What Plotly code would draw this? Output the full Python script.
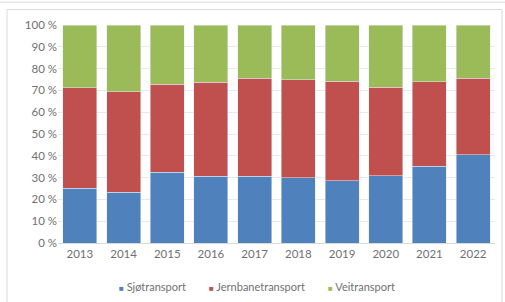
import plotly.graph_objects as go

years = ["2013", "2014", "2015", "2016", "2017", "2018", "2019", "2020", "2021", "2022"]
sjo = [25.2, 23.2, 32.4, 30.7, 30.7, 30.0, 28.6, 30.9, 35.3, 40.4]
jern = [46.0, 46.2, 40.4, 43.0, 44.8, 44.8, 45.7, 40.5, 38.7, 35.1]
vei = [28.8, 30.6, 27.2, 26.3, 24.5, 25.2, 25.7, 28.6, 26.0, 24.5]

series_names = ["Sjøtransport", "Jernbanetransport", "Veitransport"]
series_colors = ["#4F81BD", "#C0504D", "#9BBB59"]

tick_vals = [0, 10, 20, 30, 40, 50, 60, 70, 80, 90, 100]
tick_text = [f"{v} %" for v in tick_vals]

fig = go.Figure()
for name, vals, col in zip(series_names, [sjo, jern, vei], series_colors):
    fig.add_trace(go.Bar(x=years, y=vals, name=name, marker_color=col, showlegend=False))

font = dict(family="Lato, Liberation Sans, sans-serif", size=11.5, color="#707070")

# custom compact legend (like the original Excel chart)
legend_x = [0.136, 0.342, 0.614]
annotations = []
for name, col, lx in zip(series_names, series_colors, legend_x):
    annotations.append(dict(
        xref="paper", yref="paper", x=lx, y=-0.2, xanchor="left", yanchor="middle",
        showarrow=False,
        text=f"<span style='color:{col};font-size:8px'>■</span> {name}",
        font=dict(family="Lato, Liberation Sans, sans-serif", size=11, color="#707070"),
    ))

fig.update_layout(
    barmode="stack",
    bargap=0.22,
    width=505, height=302,
    margin=dict(l=58, r=10, t=25, b=59, autoexpand=False),
    paper_bgcolor="white",
    plot_bgcolor="white",
    font=font,
    showlegend=False,
    annotations=annotations,
    xaxis=dict(showline=True, linecolor="#d9d9d9", ticks="", tickfont=dict(size=11.5),
               automargin=False),
    yaxis=dict(range=[0, 100], tickvals=tick_vals, ticktext=tick_text,
               showgrid=True, gridcolor="#e8e8e8", zeroline=False, ticks="",
               tickfont=dict(size=11.5), automargin=False),
    shapes=[
        dict(type="rect", xref="paper", yref="paper", x0=-0.1167, x1=1.016, y0=-0.4, y1=1.071,
             line=dict(color="#d9d9d9", width=1), fillcolor="rgba(0,0,0,0)"),
        dict(type="line", xref="paper", yref="paper", x0=-0.14, x1=1.03, y0=1.105, y1=1.105,
             line=dict(color="#d9d9d9", width=1)),
    ],
)

fig.write_html("out.html", config={"displayModeBar": False},
               post_script="document.body.style.margin='0';document.body.style.overflow='hidden';")
